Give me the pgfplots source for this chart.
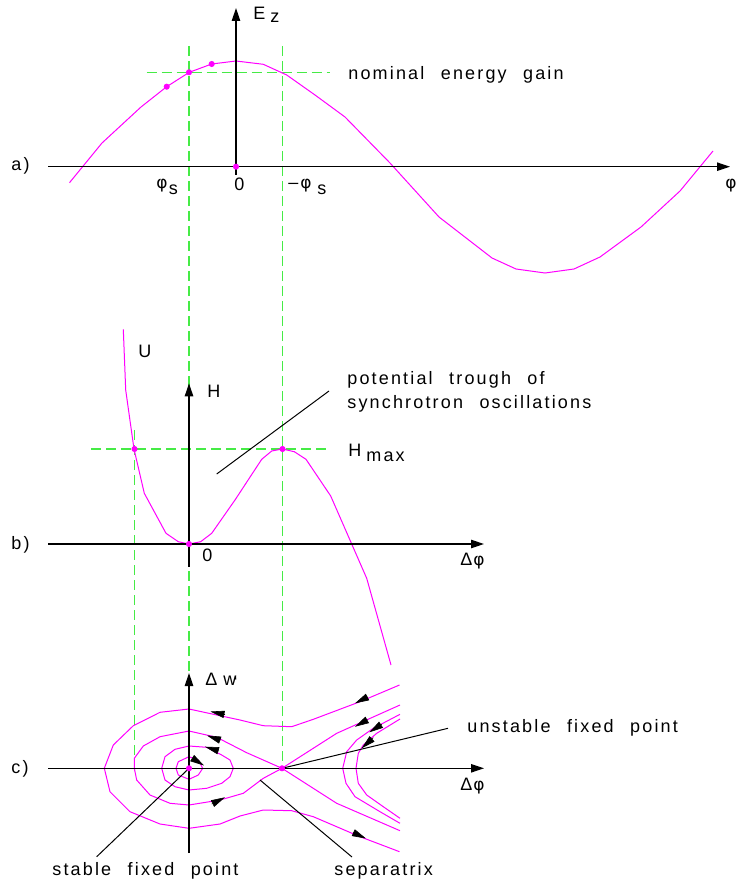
\documentclass[border=0pt]{standalone}
\usepackage{fontspec}
\setmainfont{Liberation Sans}[LetterSpace=12,WordSpace=2.3]
\newfontfamily\dv{DejaVu Sans}[LetterSpace=8]
\usepackage{pgfplots}
\pgfplotsset{compat=1.18}
\usetikzlibrary{arrows.meta}
\definecolor{mag}{RGB}{255,0,255}
\definecolor{grn}{RGB}{70,235,70}

\pgfplotsset{
  axl/.style={black, line width=0.6pt, -{Triangle[length=6.5pt,width=4.2pt]}},
  guide/.style={grn, line width=0.7pt, dash pattern=on 5pt off 2.5pt},
  curve/.style={mag, line width=0.5pt},
  ptr/.style={black, line width=0.5pt},
  flow/.style={black, line width=0.3pt, -{Triangle[length=7pt,width=3.6pt]}},
  dots/.style={only marks, mark=*, mark size=1.3pt, color=mag, mark options={fill=mag, draw=mag}},
}

\begin{document}
\begin{tikzpicture}[lab/.style={font=\fontsize{9}{11}\selectfont, inner sep=0pt, anchor=base west},
  phi/.style={font=\fontsize{8.5}{11}\selectfont\dv, inner sep=0pt, anchor=base west}]
\begin{axis}[name=ax, hide axis, x=0.5pt, y=0.5pt, y dir=reverse,
  xmin=0, xmax=736, ymin=0, ymax=887, clip=false]

% guide lines
\addplot[guide] coordinates {(146.7,72.3) (330,72.3)};
\addplot[guide] coordinates {(189,46) (189,768.3)};
\addplot[guide] coordinates {(282.5,46) (282.5,768.3)};
\addplot[guide] coordinates {(91,449) (328.3,449)};
\addplot[guide] coordinates {(134.5,430) (134.5,768.3)};

% a) energy gain
\addplot[curve] coordinates {(69.5,182.7) (102,143) (141,107) (166.7,86.7) (189.3,72.3) (211.7,64) (236,61) (263.3,64.3) (286.7,75) (315,95) (345,117) (390,163) (439,217) (492,258) (516,269) (545,273) (574,269) (600,257) (641,227) (680,191) (713,151)};

% b) potential
\addplot[curve] coordinates {(123.3,329.3) (125.7,390) (134,449) (144.3,493.3) (166,533.3) (178.3,541.7) (189,544) (200.7,541.7) (211.7,533.3) (235,500) (261.7,459.3) (271.7,451) (282.3,449) (294.3,451.7) (306,459.3) (330.7,496) (366.7,578.3) (391,665)};
\addplot[ptr] coordinates {(216.7,474) (329,391)};

% c) phase space
\addplot[curve] coordinates {(176,768.3) (178.3,761.7) (189,756.7) (198.3,760) (202.7,768.3) (198.3,775) (189,779.3) (178.3,775) (176,768.3)};
\addplot[curve] coordinates {(161.7,768.3) (165,756.7) (175,749.3) (189,746) (206.7,747.3) (221.7,755) (230,760) (233.3,768.3) (230,776.7) (221.7,783.3) (206.7,788.3) (189,790) (175,786.7) (165,780) (161.7,768.3)};
\addplot[curve] coordinates {(282,768.3) (246.7,752.7) (216.7,737.3) (189,731) (160,736.7) (143.3,746) (134.3,758.3) (134.3,768.3) (136.7,780) (150,795) (170,803.3) (189,805) (220,800) (243.3,793.3) (263.3,778.3) (282,768.3)};
\addplot[curve] coordinates {(282,768.3) (336.7,733.3) (400,705)};
\addplot[curve] coordinates {(282,768.3) (336.7,803.3) (400,830.7)};
\addplot[curve] coordinates {(399.5,685) (360,701.7) (313.3,719.3) (291.7,726.7) (263.3,725.7) (240,720) (189,709) (160,712.3) (133.3,725.7) (113.3,745) (104.3,768.3) (110,791.7) (130,811.7) (160,824) (189,828.3) (220,824) (240,816) (263.3,810) (291.7,810.7) (313.3,816.7) (360,836.7) (399.5,851.7)};
\addplot[curve] coordinates {(400,714.3) (373.3,728.3) (356.7,740) (346.7,751.7) (342.7,768.3) (346,783.3) (355,796.7) (380,811.7) (400,823.3)};
\addplot[curve] coordinates {(400,719) (376.7,733.3) (363.3,745) (358.3,753.3) (356,768.3) (358.3,783.3) (366.7,795) (383.3,806.7) (400,818.3)};

% flow direction
\addplot[flow] coordinates {(225,714.6) (210.5,711.5)};
\addplot[flow] coordinates {(220.5,740.2) (207,735.5)};
\addplot[flow] coordinates {(219,750.9) (205,746.7)};
\addplot[flow] coordinates {(192,758) (204,765.5)};
\addplot[flow] coordinates {(211.7,804) (225,797.3)};
\addplot[flow] coordinates {(367.5,697) (355,703.3)};
\addplot[flow] coordinates {(367.5,719.7) (355,726.7)};
\addplot[flow] coordinates {(381.7,724.3) (369.3,732.3)};
\addplot[flow] coordinates {(373.3,737.7) (361.7,748.3)};
\addplot[flow] coordinates {(353,832.5) (366,838.5)};

\addplot[ptr] coordinates {(282,768.3) (448,728.3)};
\addplot[ptr] coordinates {(260,780) (352,857)};
\addplot[ptr] coordinates {(189,768.3) (96.7,856.7)};

% axes
\addplot[axl] coordinates {(48,166.7) (730,166.7)};
\addplot[axl] coordinates {(236,175) (236,8)};
\addplot[axl] coordinates {(48,544) (484,544)};
\addplot[axl] coordinates {(189,566.7) (189,383.3)};
\addplot[axl] coordinates {(48,768.3) (484,768.3)};
\addplot[axl] coordinates {(189,853) (189,673)};

\addplot[dots] coordinates {(166.7,86.7) (189,72.3) (211.7,64) (236,166.7) (134.5,449) (282.5,449) (189,544) (189,768.3) (282,768.3)};
\addplot[black, line width=0.5pt] coordinates {(235.5,676.5) (235.8,679.5)};

% labels
\node[lab] at (253,20) {E};
\node[lab] at (270,23) {z};
\node[lab] at (348,80) {nominal energy gain};
\node[lab] at (11,171) {a)};
\node[phi] at (156,189) {φ};
\node[lab] at (168.5,195) {s};
\node[lab] at (234,191) {0};
\node[lab] at (288,189) {–};
\node[phi] at (300,189) {φ};
\node[lab] at (317,195) {s};
\node[phi] at (725,189) {φ};
\node[lab] at (138,357) {U};
\node[lab] at (207,397) {H};
\node[lab] at (347,384.3) {potential trough of};
\node[lab] at (347,408) {synchrotron oscillations};
\node[lab] at (348,456) {H};
\node[lab] at (366,461.7) {max};
\node[lab] at (11,549) {b)};
\node[lab] at (202,561.7) {0};
\node[lab] at (460,565) {Δ};
\node[phi] at (473,565) {φ};
\node[lab] at (11,773) {c)};
\node[lab] at (460,790) {Δ};
\node[phi] at (473,790) {φ};
\node[lab] at (205,685) {Δ};
\node[lab] at (223,685) {w};
\node[lab] at (467,732) {unstable fixed point};
\node[lab] at (52,875) {stable fixed point};
\node[lab] at (334,875) {separatrix};

\coordinate (bl) at (0,887);
\coordinate (tr) at (736,0);
\end{axis}
\pgfresetboundingbox
\path[use as bounding box] (bl) rectangle (tr);
\end{tikzpicture}
\end{document}
